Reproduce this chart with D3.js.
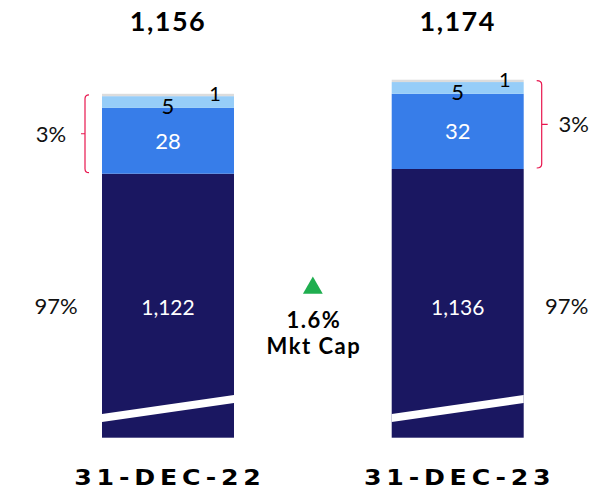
<!DOCTYPE html>
<html>
<head>
<meta charset="utf-8">
<script src="https://cdn.jsdelivr.net/npm/d3@7"></script>
<style>
  body { margin: 0; background: #fff; }
  svg { display: block; font-family: "Lato", "Open Sans", sans-serif; }
</style>
</head>
<body>
<div id="visualization"></div>
<script>
// data
let dates = ["31-DEC-22", "31-DEC-23"];
let totals = [1156, 1174];
let baseValues = [1122, 1136];     // dark navy block (axis broken)
let midValues = [28, 32];          // blue
let smallValues = [5, 5];          // light blue
let tinyValues = [1, 1];           // grey sliver
let sharesBase = ["97%", "97%"];
let sharesTop = ["3%", "3%"];
let changeLabel = ["1.6%", "Mkt Cap"];

let w = 598, h = 495;
let bottom = 437.7;

let colors = {
  base: "#1a1761",
  mid: "#377de9",
  small: "#96cdf8",
  tiny: "#dcdcdc"
};

let viz = d3.select("#visualization")
    .append("svg")
    .attr("width", w)
    .attr("height", h)
;

let xScale = d3.scaleBand()
    .domain(dates)
    .range([102, 523.7])
    .paddingInner(0.5444)
    .paddingOuter(0)
;

// the base block sits on a broken axis, so it gets its own scale
let baseTop = d3.scaleLinear().domain([1100, 1150]).range([181.1, 164.3]);
// the small segments on top are drawn to scale
let segHeight = d3.scaleLinear().domain([0, 10]).range([0, 23.5]);

let bars = dates.map(function(d, i){
  let y0 = baseTop(baseValues[i]);
  let y1 = y0 - segHeight(midValues[i]);
  let y2 = y1 - segHeight(smallValues[i]);
  let y3 = y2 - segHeight(tinyValues[i]);
  return {
    date: d, i: i,
    segs: [
      {key: "base", top: y0, bottom: bottom, value: baseValues[i]},
      {key: "mid", top: y1, bottom: y0, value: midValues[i]},
      {key: "small", top: y2, bottom: y1, value: smallValues[i]},
      {key: "tiny", top: y3, bottom: y2, value: tinyValues[i]}
    ]
  };
});

let groups = viz.selectAll(".bar")
    .data(bars)
    .enter()
    .append("g")
    .attr("class", "bar")
;

groups.selectAll("rect")
    .data(function(d){ return d.segs.map(function(s){ return Object.assign({date: d.date}, s); }); })
    .enter()
    .append("rect")
    .attr("x", function(d){ return xScale(d.date); })
    .attr("y", function(d){ return d.top; })
    .attr("width", xScale.bandwidth())
    .attr("height", function(d){ return d.bottom - d.top; })
    .attr("fill", function(d){ return colors[d.key]; })
;

// axis break slash
groups.append("path")
    .attr("d", function(d){
      let x0 = xScale(d.date), x1 = x0 + xScale.bandwidth();
      return "M" + x0 + "," + 414 + "L" + x1 + "," + 395 +
             "L" + x1 + "," + 403 + "L" + x0 + "," + 422 + "Z";
    })
    .attr("fill", "white")
;

let cx = function(d){ return xScale(d.date) + xScale.bandwidth() / 2; };

// totals on top
groups.append("text")
    .attr("x", cx)
    .attr("y", 31)
    .attr("text-anchor", "middle")
    .attr("font-size", 27)
    .attr("font-weight", 700)
    .attr("letter-spacing", 1.5)
    .attr("fill", "#000")
    .text(function(d){ return d3.format(",")(totals[d.i]); })
;

// date labels (wide lettering, stretched a bit)
groups.append("text")
    .attr("transform", function(d){ return "translate(" + (cx(d) + 2) + ",485) scale(1.2,1)"; })
    .attr("text-anchor", "middle")
    .attr("font-family", "DejaVu Sans, sans-serif")
    .attr("font-size", 21)
    .attr("font-weight", 700)
    .attr("letter-spacing", 4)
    .attr("fill", "#000")
    .text(function(d){ return d.date; })
;

// base value
groups.append("text")
    .attr("x", cx)
    .attr("y", 315)
    .attr("text-anchor", "middle")
    .attr("font-size", 21)
    .attr("font-weight", 400)
    .attr("fill", "#fff")
    .text(function(d){ return d3.format(",")(baseValues[d.i]); })
;

// mid value
groups.append("text")
    .attr("x", cx)
    .attr("y", function(d){ return (d.segs[1].top + d.segs[1].bottom) / 2 + 8; })
    .attr("text-anchor", "middle")
    .attr("font-size", 22)
    .attr("font-weight", 400)
    .attr("fill", "#fff")
    .text(function(d){ return midValues[d.i]; })
;

// small value
groups.append("text")
    .attr("x", cx)
    .attr("y", function(d){ return d.segs[2].bottom + 6; })
    .attr("text-anchor", "middle")
    .attr("font-size", 22)
    .attr("font-weight", 400)
    .attr("fill", "#000")
    .text(function(d){ return smallValues[d.i]; })
;

// tiny value
groups.append("text")
    .attr("x", function(d){ return cx(d) + 47; })
    .attr("y", function(d){ return d.segs[3].top + 7; })
    .attr("text-anchor", "middle")
    .attr("font-size", 20)
    .attr("font-weight", 400)
    .attr("fill", "#000")
    .text(function(d){ return tinyValues[d.i]; })
;

// share labels: left of first bar, right of second bar
groups.append("text")
    .attr("x", function(d){ return d.i == 0 ? xScale(d.date) - 46 : xScale(d.date) + xScale.bandwidth() + 43; })
    .attr("y", 314)
    .attr("text-anchor", "middle")
    .attr("font-size", 22)
    .attr("font-weight", 400)
    .attr("fill", "#111")
    .text(function(d){ return sharesBase[d.i]; })
;

groups.append("text")
    .attr("x", function(d){ return d.i == 0 ? xScale(d.date) - 51 : xScale(d.date) + xScale.bandwidth() + 50; })
    .attr("y", function(d){ return (d.segs[3].top + d.segs[1].bottom) / 2 + 8; })
    .attr("text-anchor", "middle")
    .attr("font-size", 22)
    .attr("font-weight", 400)
    .attr("fill", "#111")
    .text(function(d){ return sharesTop[d.i]; })
;

// braces around the top 3%
groups.append("path")
    .attr("d", function(d){
      let t = d.segs[3].top + 1, b = d.segs[1].bottom - 1, m = (t + b) / 2;
      if(d.i == 0){
        let x = xScale(d.date) - 17;
        return "M" + (x + 4) + "," + t + "Q" + x + "," + t + " " + x + "," + (t + 4) +
               "L" + x + "," + (b - 4) + "Q" + x + "," + b + " " + (x + 4) + "," + b +
               "M" + x + "," + m + "L" + (x - 4) + "," + m;
      } else {
        let x = xScale(d.date) + xScale.bandwidth() + 18;
        return "M" + (x - 5) + "," + t + "Q" + x + "," + t + " " + x + "," + (t + 4) +
               "L" + x + "," + (b - 4) + "Q" + x + "," + b + " " + (x - 5) + "," + b +
               "M" + x + "," + m + "L" + (x + 6) + "," + m;
      }
    })
    .attr("fill", "none")
    .attr("stroke", "#e8174f")
    .attr("stroke-width", 1.2)
;

// change annotation in the middle
let midX = (xScale(dates[0]) + xScale.bandwidth() + xScale(dates[1])) / 2;

viz.append("path")
    .attr("d", d3.symbol().type(d3.symbolTriangle).size(170))
    .attr("transform", "translate(" + midX + ",288)")
    .attr("fill", "#1fae4f")
;

viz.selectAll(".change")
    .data(changeLabel)
    .enter()
    .append("text")
    .attr("class", "change")
    .attr("x", midX + 1)
    .attr("y", function(d, i){ return 328 + i * 26; })
    .attr("text-anchor", "middle")
    .attr("font-size", 22)
    .attr("font-weight", 700)
    .attr("letter-spacing", 1.5)
    .attr("fill", "#000")
    .text(function(d){ return d; })
;
</script>
</body>
</html>
